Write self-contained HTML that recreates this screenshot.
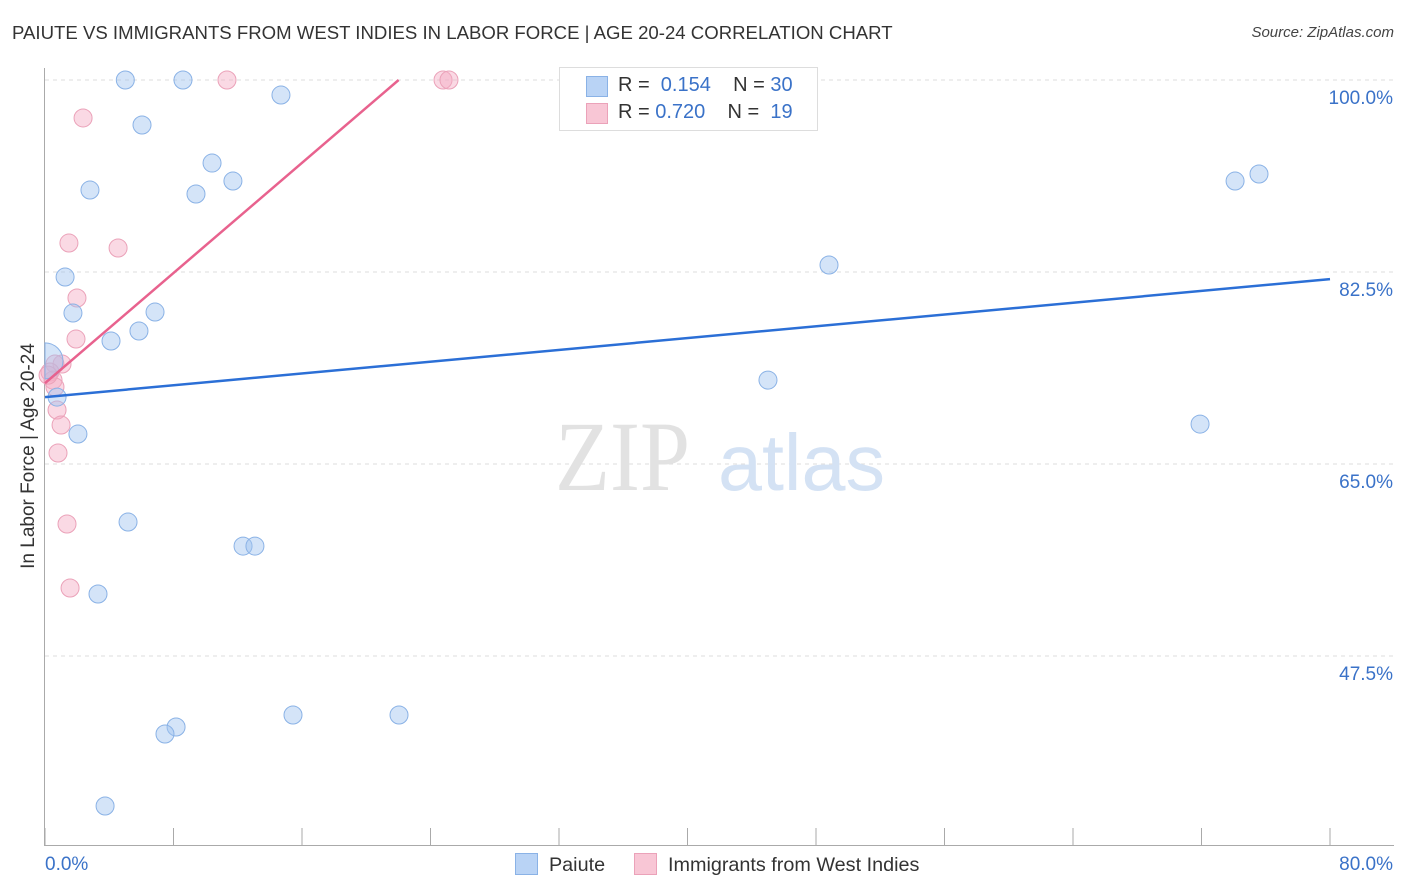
<!DOCTYPE html>
<html><head><meta charset="utf-8">
<style>
body{margin:0;background:#fff;font-family:"Liberation Sans",sans-serif;}
#wrap{position:relative;width:1406px;height:892px;overflow:hidden;}
.t{position:absolute;white-space:nowrap;}
</style></head>
<body>
<div id="wrap">
<div class="t" style="left:12px;top:22px;font-size:18.6px;color:#333;">PAIUTE VS IMMIGRANTS FROM WEST INDIES IN LABOR FORCE | AGE 20-24 CORRELATION CHART</div>
<div class="t" style="right:12px;top:24px;font-size:15px;color:#444;font-style:italic;">Source: ZipAtlas.com</div>
<svg id="svg" width="1406" height="892" style="position:absolute;left:0;top:0"></svg>
</div>
<script>
const xTicks=[0,8,16,24,32,40,48,56,64,72,80];
const yTicks=[100,82.5,65,47.5];
const yTickLabels=["100.0%","82.5%","65.0%","47.5%"];
const paiuteX=[5.0,8.59,14.69,6.04,10.40,11.70,9.40,2.80,1.25,1.74,6.85,5.85,4.11,0.75,2.05,5.17,12.33,13.07,3.30,15.44,22.04,8.16,7.47,3.74,48.81,45.01,71.91,74.09,75.58,0.0];
const paiuteY=[100,100,98.63,95.9,92.43,90.79,89.61,89.97,82.04,78.76,78.85,77.12,76.21,71.1,67.73,59.71,57.52,57.52,53.15,42.12,42.12,41.03,40.39,33.83,83.14,72.65,68.64,90.79,91.43,74.4];
const westX=[11.33,24.78,25.15,2.37,1.49,4.55,1.99,1.93,1.06,0.62,0.31,0.50,0.62,0.75,1.0,0.81,1.37,1.56,0.19];
const westY=[100,100,100,96.54,85.14,84.69,80.13,76.39,74.11,74.11,73.38,72.65,72.02,69.92,68.55,66.0,59.53,53.70,73.1];
const paiuteLine=[71.1,81.85];
const westLine=[72.37,1.255];
const X=v=>45+v/80*1285;
const Y=v=>80+(100-v)/17.5*192;
const svg=document.getElementById('svg');
const NS='http://www.w3.org/2000/svg';
function mk(tag,at){const e=document.createElementNS(NS,tag);for(const k in at)e.setAttribute(k,at[k]);svg.appendChild(e);return e;}
yTicks.forEach((v,i)=>{
 const g=mk('line',{x1:45,x2:1394,y1:Y(v),y2:Y(v),stroke:'#ddd','stroke-dasharray':'4,4'});
 
 
 const t=mk('text',{x:1393,y:Y(v)+24,'text-anchor':'end','font-size':19,fill:'#3a72c8','font-family':'Liberation Sans,sans-serif'});
 t.textContent=yTickLabels[i];
 
 
});
let a=mk('line',{x1:44.5,x2:44.5,y1:68,y2:845,stroke:'#aaa'});


a=mk('line',{x1:44,x2:1394,y1:845.5,y2:845.5,stroke:'#aaa'});


xTicks.forEach(v=>{const t=mk('line',{x1:X(v),x2:X(v),y1:828,y2:845,stroke:'#aaa'});
 
 });
let tl=mk('text',{x:45,y:870,'font-size':19,fill:'#3a72c8','font-family':'Liberation Sans,sans-serif'});tl.textContent='0.0%';


tl=mk('text',{x:1393,y:870,'text-anchor':'end','font-size':19,fill:'#3a72c8','font-family':'Liberation Sans,sans-serif'});tl.textContent='80.0%';


tl=mk('text',{x:0,y:0,transform:'translate(34,456) rotate(-90)','text-anchor':'middle','font-size':19,fill:'#333','font-family':'Liberation Sans,sans-serif'});tl.textContent='In Labor Force | Age 20-24';


tl=mk('text',{x:555,y:490,'font-size':100,fill:'#e2e2e2','font-family':'Liberation Serif,serif',textLength:135,lengthAdjust:'spacingAndGlyphs'});tl.textContent='ZIP';


tl=mk('text',{x:718,y:490,'font-size':80,fill:'#d4e2f4','font-family':'Liberation Sans,sans-serif',textLength:167,lengthAdjust:'spacingAndGlyphs'});tl.textContent='atlas';


westX.forEach((x,i)=>{const c=mk('circle',{cx:X(x),cy:Y(westY[i]),r:9,fill:'rgba(245,170,195,0.45)',stroke:'#eba2b9','stroke-width':1});
 
 });
paiuteX.forEach((x,i)=>{
 const big=i===paiuteX.length-1;
 const cx=X(x),cy=Y(paiuteY[i]);
 let c;
 if(big){
  const r=18;
  c=mk('path',{d:`M${cx},${cy-r} A${r},${r} 0 0 1 ${cx},${cy+r} Z`,fill:'rgba(160,195,240,0.45)',stroke:'#8ab2e6','stroke-width':1});
 }else{
  c=mk('circle',{cx:cx,cy:cy,r:9,fill:'rgba(160,195,240,0.45)',stroke:'#8ab2e6','stroke-width':1});
 }
 
 });
let l=mk('line',{x1:X(0),y1:Y(paiuteLine[0]),x2:X(80),y2:Y(paiuteLine[1]),stroke:'#2b6fd6','stroke-width':2.5});


const xe=(100-westLine[0])/westLine[1];
l=mk('line',{x1:X(0),y1:Y(westLine[0]),x2:X(xe),y2:Y(100),stroke:'#e8628e','stroke-width':2.5});


</script>
<div style="position:absolute;left:559px;top:67px;width:257px;height:62px;border:1px solid #ddd;background:#fff;font-size:20px;color:#333;">
 <div style="position:absolute;left:26px;top:8px;width:20px;height:19px;background:#b9d3f5;border:1px solid #8ab2e6;"></div>
 <div class="t" style="left:58px;top:6px;">R = &nbsp;<span style="color:#3a72c8">0.154</span>&nbsp;&nbsp;&nbsp; N = <span style="color:#3a72c8">30</span></div>
 <div style="position:absolute;left:26px;top:35px;width:20px;height:19px;background:#f8c6d5;border:1px solid #eba2b9;"></div>
 <div class="t" style="left:58px;top:33px;">R = <span style="color:#3a72c8">0.720</span>&nbsp;&nbsp;&nbsp; N = &nbsp;<span style="color:#3a72c8">19</span></div>
</div>
<div style="position:absolute;top:853px;left:515px;font-size:19.8px;color:#333;">
 <span style="position:absolute;left:0;top:0;white-space:nowrap;"><span style="display:inline-block;width:21px;height:20px;background:#b9d3f5;border:1px solid #8ab2e6;vertical-align:-4px;"></span>&nbsp; Paiute</span>
 <span style="position:absolute;left:119px;top:0;white-space:nowrap;"><span style="display:inline-block;width:21px;height:20px;background:#f8c6d5;border:1px solid #eba2b9;vertical-align:-4px;"></span>&nbsp; Immigrants from West Indies</span>
</div>
</body></html>
